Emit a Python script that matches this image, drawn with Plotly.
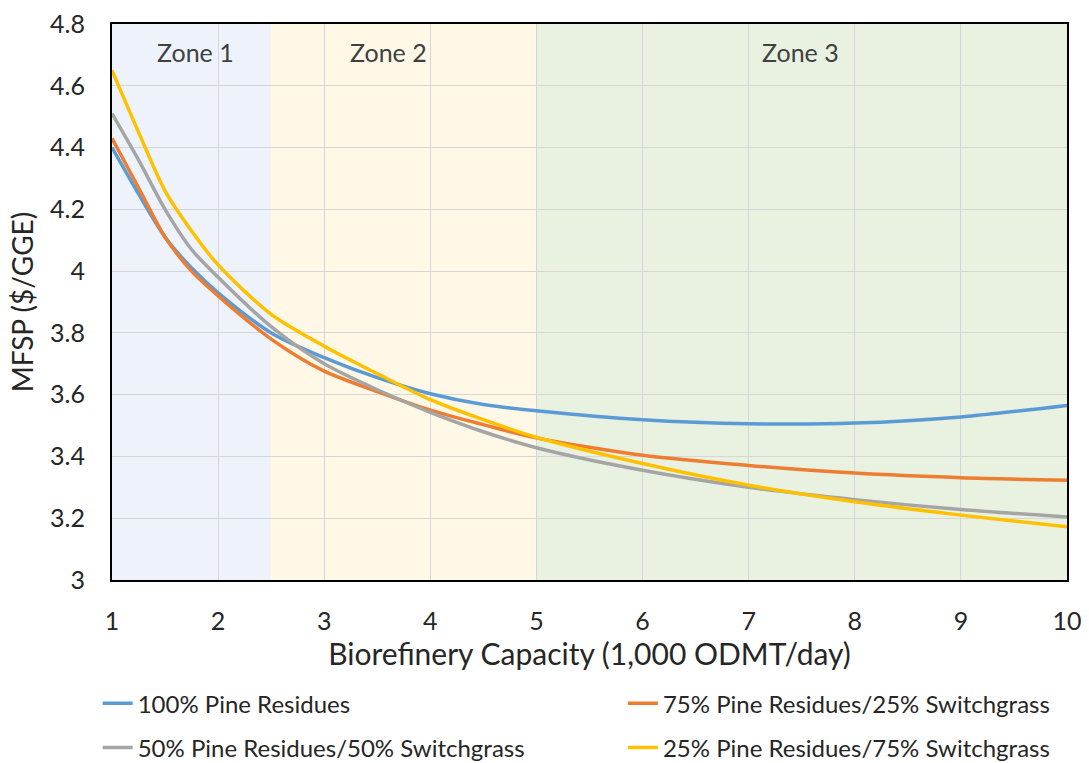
import plotly.graph_objects as go

capacity = [1, 1.25, 1.5, 1.75, 2, 2.5, 3, 3.5, 4, 4.5, 5, 6, 7, 8, 9, 10]
pine100 = [4.40, 4.25, 4.11, 4.01, 3.93, 3.80, 3.72, 3.655, 3.603, 3.568, 3.548, 3.519, 3.506, 3.508, 3.528, 3.565]
pine75 = [4.43, 4.27, 4.11, 4.00, 3.92, 3.78, 3.676, 3.61, 3.55, 3.503, 3.46, 3.404, 3.371, 3.346, 3.331, 3.323]
pine50 = [4.51, 4.36, 4.20, 4.07, 3.98, 3.82, 3.70, 3.616, 3.543, 3.48, 3.428, 3.355, 3.30, 3.26, 3.228, 3.204]
pine25 = [4.65, 4.45, 4.26, 4.13, 4.02, 3.86, 3.757, 3.668, 3.584, 3.519, 3.462, 3.377, 3.307, 3.253, 3.21, 3.172]

series_names = ["100% Pine Residues", "75% Pine Residues/25% Switchgrass",
                "50% Pine Residues/50% Switchgrass", "25% Pine Residues/75% Switchgrass"]
series_colors = ["#5B9BD5", "#ED7D31", "#A5A5A5", "#FFC000"]
series_legend = ["legend", "legend2", "legend", "legend2"]

zone_labels = ["Zone 1", "Zone 2", "Zone 3"]
zone_bounds = [(1, 2.5), (2.5, 5), (5, 10)]
zone_label_x = [1.79, 3.61, 7.49]
zone_colors = ["#EEF3FB", "#FFF8E6", "#E9F1E1"]

FONT = "Lato, Liberation Sans, sans-serif"

fig = go.Figure()
for i, (name, vals, col, lg) in enumerate(zip(series_names, [pine100, pine75, pine50, pine25],
                                               series_colors, series_legend)):
    fig.add_trace(go.Scatter(x=capacity, y=vals, mode="lines", name=name, legend=lg,
                             legendgroup=f"g{i}",
                             line=dict(color=col, width=3.5, shape="spline", smoothing=0.8)))

for (x0, x1), col in zip(zone_bounds, zone_colors):
    fig.add_shape(type="rect", xref="x", yref="y", x0=x0, x1=x1, y0=3, y1=4.8,
                  fillcolor=col, line=dict(width=0), layer="below")
for lab, lx in zip(zone_labels, zone_label_x):
    fig.add_annotation(x=lx, y=4.71, text=lab, showarrow=False, xref="x", yref="y",
                       font=dict(family=FONT, size=25, color="#404040"))

legend_common = dict(orientation="v", xanchor="left", y=-0.182, yanchor="top",
                     tracegroupgap=10, font=dict(family=FONT, size=24, color="#262626"),
                     bgcolor="rgba(0,0,0,0)")

fig.update_layout(
    width=1089, height=763,
    margin=dict(l=112, r=22, t=24, b=183, autoexpand=False),
    paper_bgcolor="white", plot_bgcolor="white",
    font=dict(family=FONT, color="#262626"),
    showlegend=True,
    legend=dict(x=-0.015, **legend_common),
    legend2=dict(x=0.535, **legend_common),
)
fig.update_xaxes(range=[1, 10], tickvals=list(range(1, 11)), showgrid=True,
                 gridcolor="#D6D6D6", gridwidth=1, zeroline=False,
                 showline=True, linecolor="black", linewidth=2, mirror=True,
                 ticks="", tickfont=dict(family=FONT, size=25, color="#262626"),
                 ticklabelstandoff=18,
                 title=dict(text="Biorefinery Capacity (1,000 ODMT/day)", standoff=4,
                            font=dict(family=FONT, size=30, color="#262626")))
fig.update_yaxes(range=[3, 4.8], dtick=0.2, showgrid=True,
                 gridcolor="#D6D6D6", gridwidth=1, zeroline=False,
                 showline=True, linecolor="black", linewidth=2, mirror=True,
                 ticks="", tickfont=dict(family=FONT, size=25, color="#262626"),
                 ticklabelstandoff=20,
                 title=dict(text="MFSP ($/GGE)", standoff=8,
                            font=dict(family=FONT, size=28, color="#262626")))

fig.write_html("out.html")
